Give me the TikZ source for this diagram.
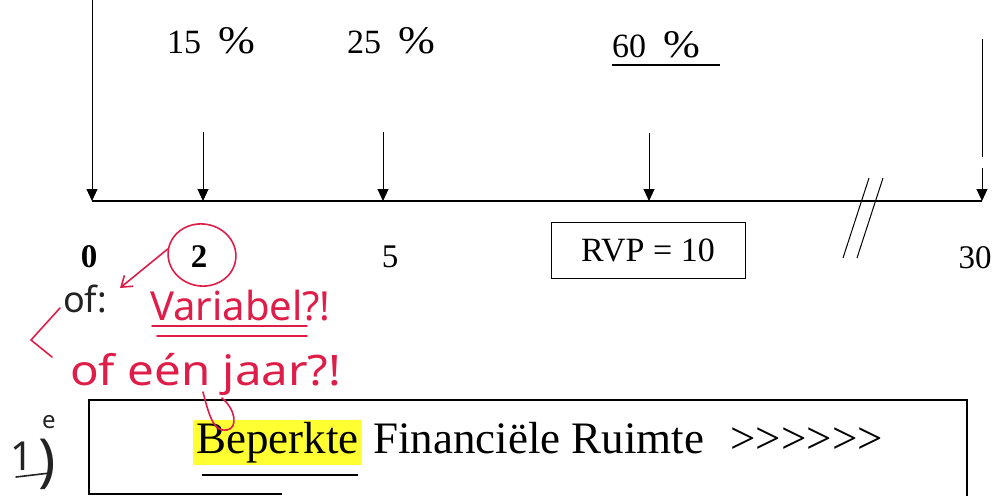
\documentclass[tikz,border=0pt]{standalone}
\usepackage{fontspec}
\usepackage{graphicx}
\setmainfont{Liberation Serif}
\newfontfamily\hand{Noto Sans}
\usetikzlibrary{arrows.meta,shapes.geometric}
\definecolor{hwred}{RGB}{222,30,72}
\definecolor{hl}{RGB}{255,255,50}
\definecolor{pen}{RGB}{35,35,35}
\newcommand{\pct}{\scalebox{1.3}[1.15]{\%}}
\begin{document}
\begin{tikzpicture}[x=1pt,y=-1pt,
  num/.style={font=\fontsize{33}{36}\selectfont, inner sep=0, anchor=base},
  pctlab/.style={font=\fontsize{34}{36}\selectfont, inner sep=0, anchor=base west},
  drop/.style={line width=1pt, -{Triangle[width=11pt,length=12pt]}},
  axisline/.style={line width=1.2pt},
  hwr/.style={hwred, line width=1.6pt, line cap=round, line join=round},
  hwk/.style={pen, line width=1.6pt, line cap=round, line join=round},
  hwtext/.style={text=hwred, font=\hand\fontsize{40}{44}\selectfont, inner sep=0, anchor=base west},
  hwblack/.style={text=pen, font=\hand\fontsize{36}{40}\selectfont, inner sep=0, anchor=base west},
  bigtext/.style={font=\fontsize{45}{50}\selectfont}
]
\useasboundingbox (0,0) rectangle (1005,496);

% axis points
\coordinate (t0) at (92,201);
\coordinate (t2) at (203,201);
\coordinate (t5) at (383,201);
\coordinate (t10) at (649,201);
\coordinate (t30) at (982,201);
% arrow tops
\coordinate (a0) at (92,0);
\coordinate (a2) at (203,132);
\coordinate (a5) at (383,132);
\coordinate (a10) at (649,133);
\coordinate (a30) at (982,39);
\coordinate (a30g) at (982,157);
\coordinate (a30m) at (982,168);

% axis
\draw[axisline] (t0) -- (t30);
\draw[line width=2.6pt] (158,201) -- (280,201);
\draw[line width=2.6pt] (343,201) -- (402,201);

% drops
\draw[drop] (a0) -- (t0);
\draw[drop] (a2) -- (t2);
\draw[drop] (a5) -- (t5);
\draw[drop] (a10) -- (t10);
\draw[line width=1pt] (a30) -- (a30g);
\draw[drop] (a30m) -- (t30);

% percentages
\node[pctlab] (p15) at (167,53) {15\hspace{0.5em}\pct};
\node[pctlab] (p25) at (347,53) {25\hspace{0.5em}\pct};
\node[pctlab] (p60) at (612,57) {60\hspace{0.5em}\pct};
\draw[line width=2pt] (612,65) -- (720,65);

% numbers
\node[num, font=\bfseries\fontsize{33}{36}\selectfont] (n0) at (89,267) {0};
\node[num, font=\bfseries\fontsize{33}{36}\selectfont] (n2) at (199,267) {2};
\node[num] (n5) at (390,267) {5};
\node[num] (n30) at (975,268) {30};
\node[draw, line width=1pt, minimum width=194pt, minimum height=56pt, inner sep=0,
      font=\fontsize{34}{36}\selectfont] (rvp) at (648,250) {RVP = 10};

% break marks
\draw[line width=1pt] (869,178) -- (843,258);
\draw[line width=1pt] (883,178) -- (857,258);

% bottom box
\draw[line width=2.6pt] (88,400) -- (968,400);
\draw[line width=1.5pt] (89,400) -- (89,494) -- (282,494);
\draw[line width=1.3pt] (967,400) -- (967,496);
\node[fill=hl, inner xsep=3pt, inner ysep=2pt, anchor=base west, bigtext] (bep) at (193,453) {Beperkte};
\node[anchor=base west, inner sep=0, bigtext] (rest) at (bep.base east) {\ Financiële Ruimte\hspace{26pt}>{}>{}>{}>{}>{}>};
\draw[line width=2.6pt] (202,475) -- (358,475);

% red annotations
\node[ellipse, draw=hwred, line width=1.6pt, minimum width=68pt, minimum height=62pt, rotate=-10] (c2) at (202,255) {};
\coordinate (tipof) at (120,288);
\draw[hwr, -{Straight Barb[length=10pt,width=14pt]}] (c2.west) -- (tipof);
\node[hwtext] (var) at (150,320) {Variabel?!};
\draw[hwr] (152,326) -- (307,326);
\draw[hwr] (157,336) -- (307,336);
\node[hwtext, font=\hand\fontsize{42}{46}\selectfont] (jaar) at (70,385) {\scalebox{1.13}[1]{of eén jaar?!}};
\draw[hwr] (203,392) .. controls (210,420) and (215,432) .. (227,430) .. controls (238,428) and (236,410) .. (222,398);
\draw[hwr] (60,308) -- (31,340) -- (52,357);

% black handwriting
\node[hwblack] (ofb) at (63,312) {of:};
\node[hwblack, font=\hand\fontsize{40}{44}\selectfont] (one) at (10,470) {1};
\node[hwblack, font=\hand\fontsize{24}{26}\selectfont] (sup) at (42,428) {e};
\node[hwblack, font=\hand\fontsize{58}{60}\selectfont] (par) at (38,480) {)};
\draw[hwk] (16,477) -- (50,473);
\end{tikzpicture}
\end{document}
